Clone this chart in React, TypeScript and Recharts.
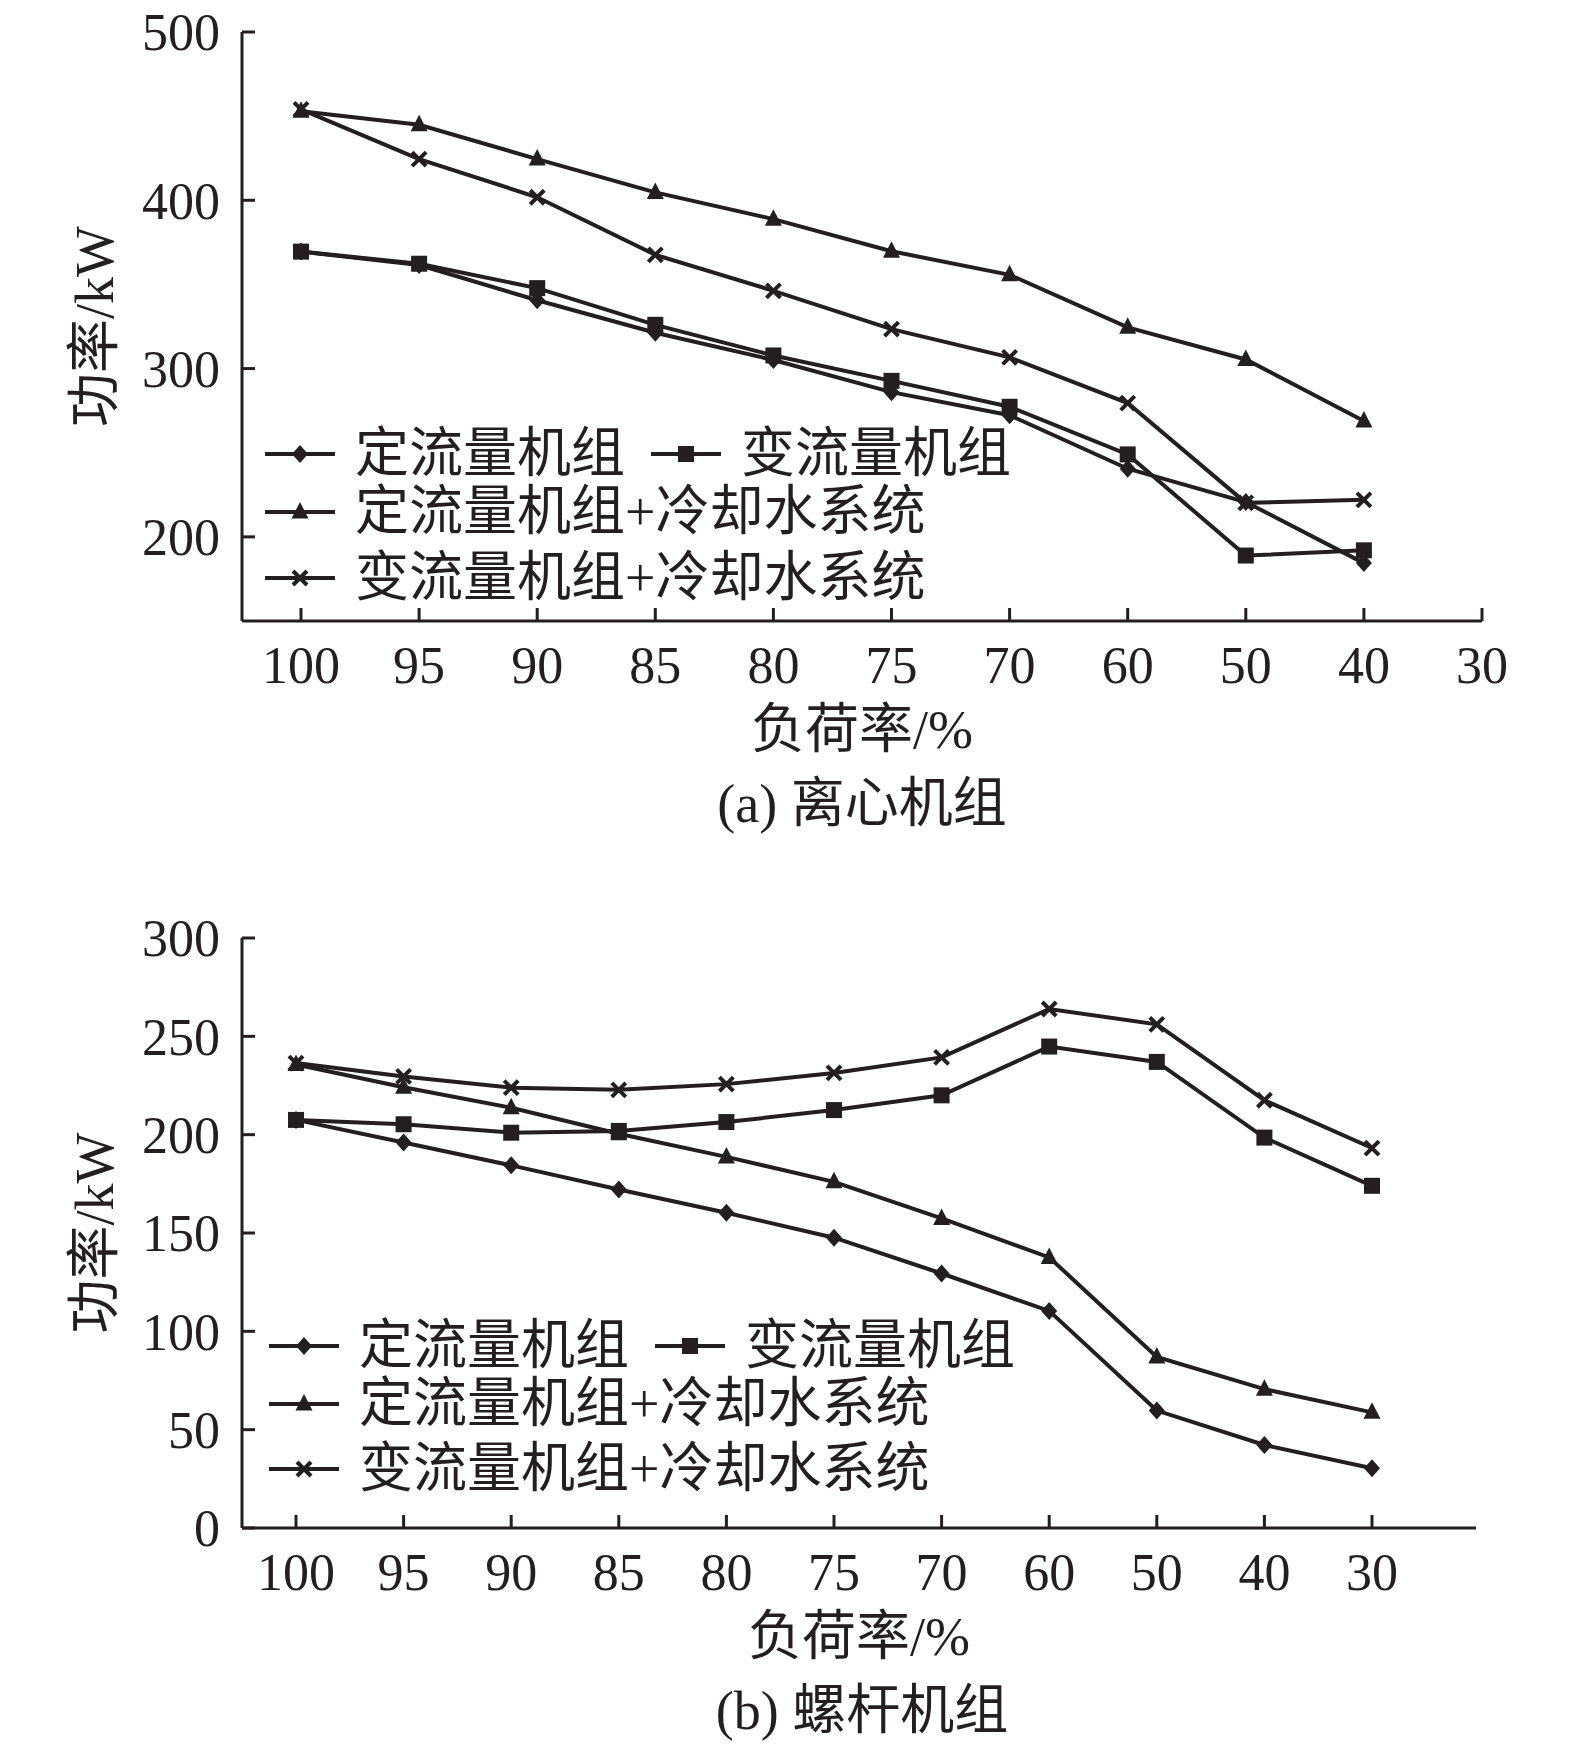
import React from "react";
import { LineChart, Line, XAxis, YAxis, Legend } from "recharts";

// load rate categories (%)
const loadTop = ["100", "95", "90", "85", "80", "75", "70", "60", "50", "40", "30"];
const loadBottom = ["100", "95", "90", "85", "80", "75", "70", "60", "50", "40", "30"];

// (a) centrifugal chillers, kW (no point at 30%)
const topConst = [369.5, 361.5, 340.6, 321.3, 305.1, 286, 272.3, 240.5, 220.7, 184.4, null];
const topVar = [369.5, 362.3, 347.8, 326, 307.8, 292.7, 277.3, 249, 188.9, 192, null];
const topConstCool = [452.9, 444.9, 424.5, 404.7, 388.8, 369.7, 355.7, 324.5, 305.4, 268.9, null];
const topVarCool = [454, 424.5, 401.8, 367.6, 346.2, 323.4, 306.7, 279.5, 220.2, 222, null];

// (b) screw chillers, kW
const botConst = [207.5, 196, 184.4, 172.1, 160.3, 147.6, 129.4, 110.4, 59.7, 42.2, 30.4];
const botVar = [207.5, 205.3, 201, 201.9, 206.4, 212.5, 220, 244.8, 237, 198.5, 174];
const botConstCool = [235.7, 224.1, 213.7, 200.5, 188.7, 176, 157.4, 137.6, 87, 70.6, 58.8];
const botVarCool = [236.4, 229.6, 223.9, 222.8, 225.7, 231.4, 239.3, 263.9, 256.1, 217.5, 193.2];

const seriesNames = ["定流量机组", "变流量机组", "定流量机组+冷却水系统", "变流量机组+冷却水系统"];
const shapes = ["diamond", "square", "triangle", "cross"];
const yTicksTop = [200, 300, 400, 500];
const yTicksBottom = [0, 50, 100, 150, 200, 250, 300];

const INK = "#231f20";
const FONT = "'Liberation Serif', 'Times New Roman', 'Noto Sans CJK SC', serif";

function buildRows(loads: string[], cols: (number | null)[][]) {
  return loads.map((l, i) => ({
    load: l,
    s0: cols[0][i],
    s1: cols[1][i],
    s2: cols[2][i],
    s3: cols[3][i],
  }));
}

const topData = buildRows(loadTop, [topConst, topVar, topConstCool, topVarCool]);
const bottomData = buildRows(loadBottom, [botConst, botVar, botConstCool, botVarCool]);

function Marker({ shape, cx, cy }: { shape: string; cx?: number | null; cy?: number | null }) {
  if (cx == null || cy == null || isNaN(cx) || isNaN(cy)) return null;
  if (shape === "diamond")
    return <polygon points={`${cx},${cy - 9} ${cx + 8},${cy} ${cx},${cy + 9} ${cx - 8},${cy}`} fill={INK} />;
  if (shape === "square") return <rect x={cx - 8} y={cy - 8} width={16} height={16} fill={INK} />;
  if (shape === "triangle")
    return <polygon points={`${cx},${cy - 10} ${cx + 8.5},${cy + 6.5} ${cx - 8.5},${cy + 6.5}`} fill={INK} />;
  return (
    <g stroke={INK} strokeWidth={4}>
      <line x1={cx - 7} y1={cy - 7} x2={cx + 7} y2={cy + 7} />
      <line x1={cx - 7} y1={cy + 7} x2={cx + 7} y2={cy - 7} />
    </g>
  );
}

function LegendSample({ shape }: { shape: string }) {
  return (
    <svg width={70} height={26} style={{ display: "block" }}>
      <line x1={0} y1={13} x2={70} y2={13} stroke={INK} strokeWidth={4} />
      <Marker shape={shape} cx={35} cy={13} />
    </svg>
  );
}

function makeLegend(left: number, rows: number[]) {
  const groups = [[0, 1], [2], [3]];
  return () => (
    <div style={{ position: "relative", fontFamily: FONT, color: INK }}>
      {groups.map((g, r) => (
        <div
          key={r}
          style={{ position: "absolute", left, top: rows[r] - 32, height: 64, display: "flex", alignItems: "center", whiteSpace: "nowrap" }}
        >
          {g.map((s, k) => (
            <div key={s} style={{ display: "flex", alignItems: "center", marginLeft: k > 0 ? 26 : 0 }}>
              <LegendSample shape={shapes[s]} />
              <span style={{ marginLeft: 20, fontSize: 54, lineHeight: "64px" }}>{seriesNames[s]}</span>
            </div>
          ))}
        </div>
      ))}
    </div>
  );
}

interface PanelProps {
  data: any[];
  domain: [number, number];
  ticks: number[];
  padding: { left: number; right: number };
  margin: { top: number; right: number; left: number; bottom: number };
  legendLeft: number;
  legendRows: number[];
}

function Panel({ data, domain, ticks, padding, margin, legendLeft, legendRows }: PanelProps) {
  const tickStyle = { fontSize: 52, fill: INK, fontFamily: FONT };
  return (
    <LineChart width={1575} height={800} data={data} margin={margin}>
      <XAxis
        dataKey="load"
        interval={0}
        padding={padding}
        height={120}
        tick={tickStyle}
        tickSize={-13}
        tickMargin={38}
        axisLine={{ stroke: INK, strokeWidth: 3 }}
        tickLine={{ stroke: INK, strokeWidth: 3 }}
        label={{
          content: (p: any) => {
            const vb = p.viewBox;
            return (
              <text x={vb.x + vb.width / 2} y={vb.y + 109} textAnchor="middle" dominantBaseline="central" fontSize={54} fill={INK} fontFamily={FONT}>
                负荷率/%
              </text>
            );
          },
        }}
      />
      <XAxis xAxisId="top" dataKey="load" orientation="top" height={0} tick={false} tickLine={false} padding={padding} axisLine={{ stroke: INK, strokeWidth: 3 }} />
      <YAxis
        domain={domain}
        ticks={ticks}
        width={242}
        interval={0}
        tick={tickStyle}
        tickSize={-13}
        tickMargin={35}
        axisLine={{ stroke: INK, strokeWidth: 3 }}
        tickLine={{ stroke: INK, strokeWidth: 3 }}
        label={{
          content: (p: any) => {
            const vb = p.viewBox;
            const cx = 95;
            const cy = vb.y + vb.height / 2;
            return (
              <text x={cx} y={cy} transform={`rotate(-90 ${cx} ${cy})`} textAnchor="middle" dominantBaseline="central" fontSize={54} fill={INK} fontFamily={FONT}>
                功率/kW
              </text>
            );
          },
        }}
      />
      <YAxis yAxisId="right" orientation="right" width={0} tick={false} tickLine={false} axisLine={{ stroke: INK, strokeWidth: 3 }} />
      <Legend
        layout="horizontal"
        verticalAlign="middle"
        align="center"
        content={makeLegend(legendLeft, legendRows)}
        wrapperStyle={{ left: 0, top: 0, width: 1575, height: 0 }}
      />
      {["s0", "s1", "s2", "s3"].map((k, i) => (
        <Line
          key={k}
          dataKey={k}
          name={seriesNames[i]}
          stroke={INK}
          strokeWidth={4}
          isAnimationActive={false}
          dot={(p: any) => <Marker key={`${k}-${p.index}`} shape={shapes[i]} cx={p.cx} cy={p.cy} />}
          activeDot={false}
        />
      ))}
    </LineChart>
  );
}

export default function App() {
  const caption = { position: "absolute" as const, left: 462, width: 800, textAlign: "center" as const, fontSize: 54, lineHeight: "64px" };
  return (
    <div style={{ position: "absolute", left: 0, top: 0, width: 1575, height: 1747, background: "#fff", fontFamily: FONT, color: INK, overflow: "hidden" }}>
      <div style={{ position: "absolute", left: 0, top: 0 }}>
        <Panel
          data={topData}
          domain={[150, 500]}
          ticks={yTicksTop}
          padding={{ left: 59, right: 0 }}
          margin={{ top: 32, right: 93, left: 0, bottom: 59 }}
          legendLeft={265}
          legendRows={[454, 512, 578]}
        />
      </div>
      <div style={{ ...caption, top: 804 - 32 }}>(a) 离心机组</div>
      <div style={{ position: "absolute", left: 0, top: 900 }}>
        <Panel
          data={bottomData}
          domain={[0, 300]}
          ticks={yTicksBottom}
          padding={{ left: 54, right: 104 }}
          margin={{ top: 38, right: 99, left: 0, bottom: 52 }}
          legendLeft={269}
          legendRows={[446, 504, 569]}
        />
      </div>
      <div style={{ ...caption, top: 1711 - 32 }}>(b) 螺杆机组</div>
    </div>
  );
}
